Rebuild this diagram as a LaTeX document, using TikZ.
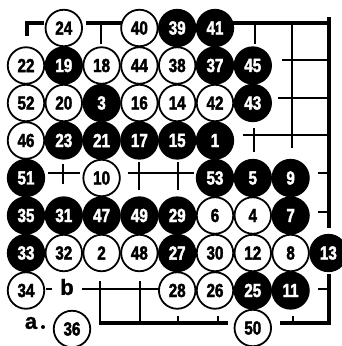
\documentclass[tikz,border=0pt]{standalone}
\usepackage{fontspec}
\setmainfont{Liberation Sans}
\newfontfamily\stonefont{Liberation Sans}[FakeStretch=0.8,FakeBold=2]
\newfontfamily\lblfont{Liberation Sans}[FakeBold=1.2]
\newcommand\WS[3]{\node[ws] (s#3) at ({26+37.8*#1},{28+37.5*#2}) {#3};}
\newcommand\BS[3]{\node[bk] (s#3) at ({26+37.8*#1},{28+37.5*#2}) {#3};}
\begin{document}
\begin{tikzpicture}[x=1pt,y=-1pt,
  stone/.style={circle,minimum size=36.5pt,inner sep=0pt,line width=1.8pt,
    font=\stonefont\bfseries\fontsize{19}{19}\selectfont},
  ws/.style={stone,draw=black,fill=white,text=black},
  bk/.style={stone,draw=black,fill=black,text=white},
  bdedge/.style={line width=3.2pt},
  gline/.style={line width=1.2pt},
  lbl/.style={font=\lblfont\bfseries\fontsize{22}{22}\selectfont,inner sep=0pt}]
\useasboundingbox (0,0) rectangle (341,346);
% thick edges
\draw[bdedge] (27,36) -- (27,23) -- (44,23);
\draw[bdedge] (86,23) -- (123,23);
\draw[bdedge] (233,23) -- (329,23);
\draw[bdedge] (329,17) -- (329,228);
\draw[bdedge] (329,274) -- (329,323) -- (280,323);
\draw[bdedge] (99,323) -- (228,323);
% thin lines
\draw[gline] (101,23) -- (101,44);
\draw[gline] (255,23) -- (255,44);
\draw[gline] (292,23) -- (292,148);
\draw[gline] (282,60) -- (329,60);
\draw[gline] (278,98) -- (329,98);
\draw[gline] (243,135) -- (329,135);
\draw[gline] (254,128) -- (254,152);
\draw[gline] (48,173) -- (80,173);
\draw[gline] (63,164) -- (63,184);
\draw[gline] (128,173) -- (194,173);
\draw[gline] (139,162) -- (139,190);
\draw[gline] (178,162) -- (178,190);
\draw[gline] (318,173) -- (329,173);
\draw[gline] (318,212) -- (329,212);
\draw[gline] (318,289) -- (329,289);
\draw[gline] (82,289) -- (160,289);
\draw[gline] (100,281) -- (100,323);
\draw[gline] (140,281) -- (140,323);
\draw[gline] (46,289) -- (52,289);
\draw[gline] (178,316) -- (178,323);
\draw[gline] (218,316) -- (218,323);
\draw[gline] (293,316) -- (293,323);
% stones row 0
\WS{1}{0}{24} \WS{3}{0}{40} \BS{4}{0}{39} \BS{5}{0}{41}
% row 1
\WS{0}{1}{22} \BS{1}{1}{19} \WS{2}{1}{18} \WS{3}{1}{44} \WS{4}{1}{38} \BS{5}{1}{37} \BS{6}{1}{45}
% row 2
\WS{0}{2}{52} \WS{1}{2}{20} \BS{2}{2}{3} \WS{3}{2}{16} \WS{4}{2}{14} \WS{5}{2}{42} \BS{6}{2}{43}
% row 3
\WS{0}{3}{46} \BS{1}{3}{23} \BS{2}{3}{21} \BS{3}{3}{17} \BS{4}{3}{15} \BS{5}{3}{1}
% row 4
\BS{0}{4}{51} \WS{2}{4}{10} \BS{5}{4}{53} \BS{6}{4}{5} \BS{7}{4}{9}
% row 5
\BS{0}{5}{35} \BS{1}{5}{31} \BS{2}{5}{47} \BS{3}{5}{49} \BS{4}{5}{29} \WS{5}{5}{6} \WS{6}{5}{4} \BS{7}{5}{7}
% row 6
\BS{0}{6}{33} \WS{1}{6}{32} \WS{2}{6}{2} \WS{3}{6}{48} \BS{4}{6}{27} \WS{5}{6}{30} \WS{6}{6}{12} \WS{7}{6}{8} \BS{8}{6}{13}
% row 7
\WS{0}{7}{34} \WS{4}{7}{28} \WS{5}{7}{26} \BS{6}{7}{25} \BS{7}{7}{11}
% row 8
\node[ws] (s36) at (72,329) {36};
\WS{6}{8}{50}
% labels
\node[lbl] (lb) at (67,287) {b};
\node[lbl] (la) at (31,323) {a};
\fill (43,327) circle (2pt);
\end{tikzpicture}
\end{document}
